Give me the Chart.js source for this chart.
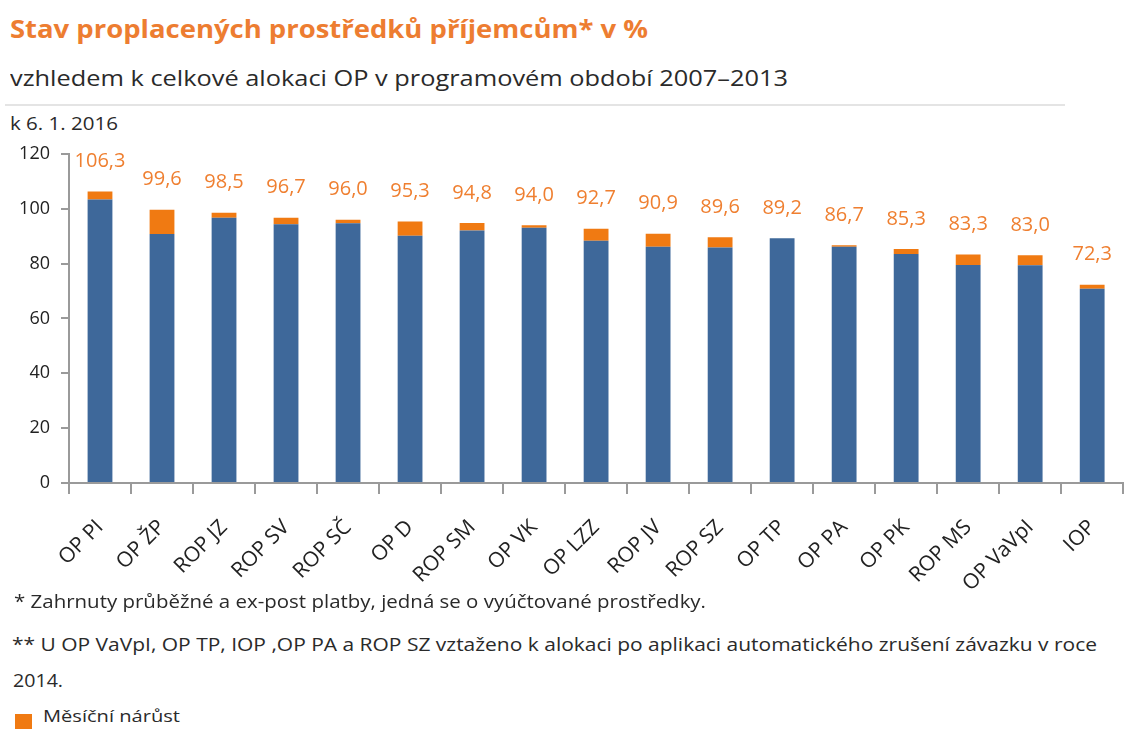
<!DOCTYPE html>
<html lang="cs">
<head>
<meta charset="utf-8">
<script src="https://cdn.jsdelivr.net/npm/chart.js@4.4.1/dist/chart.umd.min.js"></script>
<style>
  html, body { margin:0; padding:0; background:#fff; width:1124px; height:729px; overflow:hidden; }
  body { position:relative; font-family:"Open Sans", "Noto Sans", sans-serif; color:#2a2a2a; }
  .t { position:absolute; white-space:nowrap; line-height:1; transform-origin:0 0; display:inline-block; }
  #chartBox { position:absolute; left:0; top:132px; width:1131px; height:478px; }
</style>
</head>
<body>
<div class="t" id="title" data-w="638" style="left:10px; top:16px; font-size:25px; font-weight:700; color:#ed7d31;">Stav proplacených prostředků příjemcům* v %</div>
<div class="t" id="sub" data-w="778" style="left:10px; top:66px; font-size:22px; color:#2a2a2a;">vzhledem k celkové alokaci OP v programovém období 2007–2013</div>
<div style="position:absolute; left:5px; top:104px; width:1060px; height:2px; background:#e4e4e4;"></div>
<div class="t" id="date" data-w="108" style="left:10px; top:114px; font-size:19px; color:#2a2a2a;">k 6. 1. 2016</div>

<div id="chartBox"><canvas id="c"></canvas></div>

<div class="t" data-w="692" style="left:14px; top:592px; font-size:19px; color:#2a2a2a;">* Zahrnuty průběžné a ex-post platby, jedná se o vyúčtované prostředky.</div>
<div class="t" data-w="1085" style="left:12px; top:635px; font-size:19px; color:#2a2a2a;">** U OP VaVpI, OP TP, IOP ,OP PA a ROP SZ vztaženo k alokaci po aplikaci automatického zrušení závazku v roce</div>
<div class="t" data-w="50" style="left:13px; top:671px; font-size:19px; color:#2a2a2a;">2014.</div>
<div style="position:absolute; left:15px; top:714px; width:17px; height:17px; background:#f07a12;"></div>
<div class="t" data-w="137" style="left:43px; top:707px; font-size:17px; color:#2a2a2a;">Měsíční nárůst</div>

<script>
// ---- data ----
const categories = ['OP PI','OP ŽP','ROP JZ','ROP SV','ROP SČ','OP D','ROP SM','OP VK','OP LZZ','ROP JV','ROP SZ','OP TP','OP PA','OP PK','ROP MS','OP VaVpI','IOP'];
const paidBase   = [103.3, 90.8, 96.7, 94.3, 94.7, 90.1, 92.0, 93.0, 88.3, 86.1, 85.8, 89.2, 86.1, 83.5, 79.5, 79.4, 70.8];
const monthlyInc = [3.0, 8.8, 1.8, 2.4, 1.3, 5.2, 2.8, 1.0, 4.4, 4.8, 3.8, 0.0, 0.6, 1.8, 3.8, 3.6, 1.5];
const yTicks = [0, 20, 40, 60, 80, 100, 120];

const BLUE = '#3e689a';
const ORANGE = '#f07a12';
const LABEL_ORANGE = '#ef7f30';
const FONT = '"Open Sans", "Noto Sans", sans-serif';

const totalLabels = {
  id: 'totalLabels',
  afterDatasetsDraw(chart) {
    const ctx = chart.ctx;
    const y = chart.scales.y;
    const meta = chart.getDatasetMeta(1);
    ctx.save();
    ctx.font = '20px ' + FONT;
    ctx.fillStyle = LABEL_ORANGE;
    ctx.textAlign = 'center';
    ctx.textBaseline = 'middle';
    categories.forEach((c, i) => {
      const total = paidBase[i] + monthlyInc[i];
      const x = meta.data[i].x;
      const py = y.getPixelForValue(total) - 30;
      ctx.fillText(total.toFixed(1).replace('.', ','), x, py);
    });
    ctx.restore();
  }
};

function start() {
  document.querySelectorAll('.t[data-w]').forEach(el => {
    const w = el.getBoundingClientRect().width;
    const target = parseFloat(el.dataset.w);
    if (w > 0) el.style.transform = 'scaleX(' + (target / w) + ')';
  });

  new Chart(document.getElementById('c'), {
    type: 'bar',
    data: {
      labels: categories,
      datasets: [
        { label: 'Proplaceno', data: paidBase, backgroundColor: BLUE, borderWidth: 0,
          barPercentage: 0.4, categoryPercentage: 1.0 },
        { label: 'Měsíční nárůst', data: monthlyInc, backgroundColor: ORANGE, borderWidth: 0,
          barPercentage: 0.4, categoryPercentage: 1.0 }
      ]
    },
    options: {
      responsive: true,
      maintainAspectRatio: false,
      animation: false,
      layout: { padding: { top: 5, left: 0, right: 0, bottom: 0 } },
      plugins: { legend: { display: false }, tooltip: { enabled: false }, title: { display: false } },
      scales: {
        x: {
          stacked: true,
          offset: true,
          grid: { display: true, drawOnChartArea: false, offset: true, tickLength: 11, color: '#9a9a9a', lineWidth: 2 },
          border: { display: true, color: '#9a9a9a', width: 2 },
          ticks: { maxRotation: 45, minRotation: 45, autoSkip: false, padding: 21,
                   font: { family: FONT, size: 21 }, color: '#222' },
          afterFit(s) { s.height = 127; }
        },
        y: {
          stacked: true,
          min: 0, max: 120,
          afterBuildTicks(s) { s.ticks = yTicks.map(v => ({ value: v })); },
          grid: { display: true, drawOnChartArea: false, tickLength: 8, color: '#9a9a9a', lineWidth: 2 },
          border: { display: true, color: '#9a9a9a', width: 2 },
          ticks: { padding: 11, font: { family: FONT, size: 18 }, color: '#222' },
          afterFit(s) { s.width = 69; }
        }
      }
    },
    plugins: [totalLabels]
  });
}

if (document.fonts && document.fonts.ready) {
  Promise.all([
    document.fonts.load('700 25px "Open Sans"'),
    document.fonts.load('19px "Open Sans"')
  ]).catch(()=>{}).then(() => document.fonts.ready).then(start);
} else {
  start();
}
</script>
</body>
</html>
